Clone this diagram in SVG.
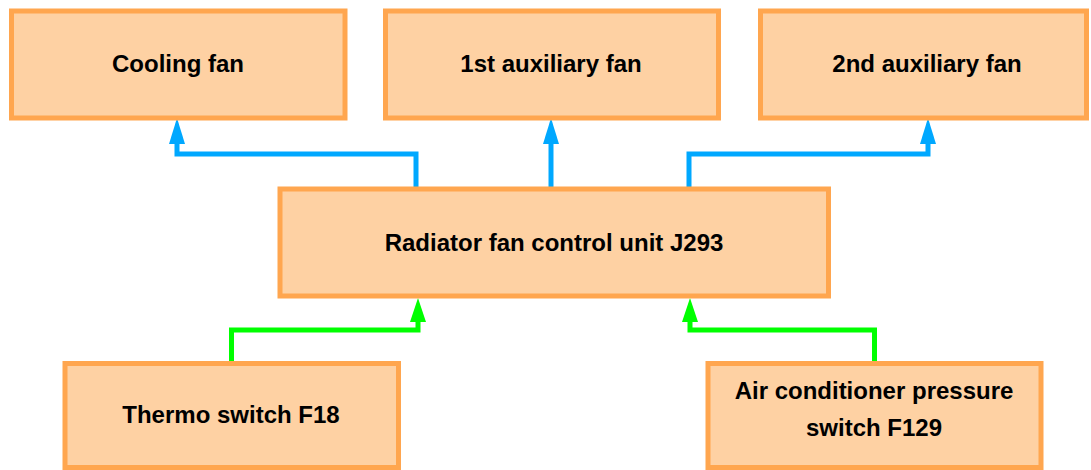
<svg xmlns="http://www.w3.org/2000/svg" width="1091" height="470" viewBox="0 0 1091 470">
<style>
.box{fill:#fed1a3;stroke:#ffa64f;stroke-width:5}
.lbl{font-family:"Liberation Sans",Arial,sans-serif;font-weight:bold;font-size:24px;fill:#000;text-anchor:middle}
.blue{fill:none;stroke:#00a8ff;stroke-width:5}
.green{fill:none;stroke:#00ff00;stroke-width:5}
.ahb{fill:#00a8ff}
.ahg{fill:#00ff00}
</style>
<rect width="1091" height="470" fill="#fff"/>
<g id="connectors">
<path class="blue" d="M416,189 V154 H177 V143"/>
<polygon class="ahb" points="169,144 177,118 185,144"/>
<path class="blue" d="M551,189 V143"/>
<polygon class="ahb" points="543,144 551,118 559,144"/>
<path class="blue" d="M689,189 V154 H928 V143"/>
<polygon class="ahb" points="920,144 928,118 936,144"/>
<path class="green" d="M231.5,363 V330 H418 V321"/>
<polygon class="ahg" points="410,322 418,298 426,322"/>
<path class="green" d="M874.5,363 V330 H690 V321"/>
<polygon class="ahg" points="682,322 690,298 698,322"/>
</g>
<g id="cooling-fan"><rect class="box" x="11.5" y="11" width="333.5" height="107"/><text class="lbl" x="178" y="71.5">Cooling fan</text></g>
<g id="aux-fan-1"><rect class="box" x="385.5" y="11" width="333" height="107"/><text class="lbl" x="551" y="71.5">1st auxiliary fan</text></g>
<g id="aux-fan-2"><rect class="box" x="760.5" y="11" width="326" height="107"/><text class="lbl" x="927" y="71.5">2nd auxiliary fan</text></g>
<g id="control-unit"><rect class="box" x="280" y="189" width="548.5" height="107"/><text class="lbl" x="554" y="250.5">Radiator fan control unit J293</text></g>
<g id="thermo-switch"><rect class="box" x="65" y="363.5" width="333.5" height="104"/><text class="lbl" x="231" y="422.5">Thermo switch F18</text></g>
<g id="ac-switch"><rect class="box" x="708" y="363.5" width="333" height="104"/><text class="lbl" x="874" y="399">Air conditioner pressure</text><text class="lbl" x="874" y="435.5">switch F129</text></g>
</svg>
